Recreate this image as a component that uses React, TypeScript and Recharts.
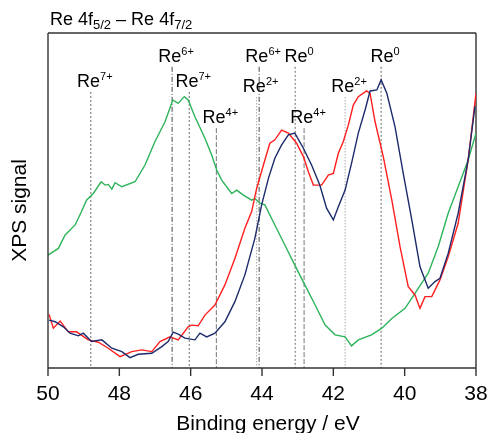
import React from 'react';
import { LineChart, Line, XAxis, YAxis, ReferenceLine } from 'recharts';

const xTicks = [50, 48, 46, 44, 42, 40, 38];

const greenEnergy = [50.0, 49.71, 49.52, 49.24, 49.06, 48.92, 48.73, 48.51, 48.4, 48.31, 48.21, 48.12, 47.93, 47.56, 47.28, 47.0, 46.72, 46.5, 46.35, 46.18, 46.07, 45.88, 45.6, 45.41, 45.27, 45.13, 44.85, 44.71, 44.52, 44.29, 44.2, 44.06, 43.92, 43.64, 43.36, 43.08, 42.8, 42.51, 42.23, 41.95, 41.67, 41.49, 41.3, 40.93, 40.64, 40.36, 39.99, 39.71, 39.34, 39.06, 38.78, 38.5, 38.22, 38.0];
const greenSignal = [33.7, 35.7, 39.7, 42.7, 46.7, 50.1, 52.1, 55.6, 54.6, 54.8, 53.4, 55.3, 54.1, 55.6, 60.6, 67.6, 73.5, 80.0, 79.0, 81.0, 80.0, 75.0, 68.6, 63.6, 59.1, 56.1, 52.1, 53.1, 51.6, 50.1, 50.6, 49.2, 48.7, 42.7, 36.7, 30.7, 24.8, 18.8, 12.8, 9.9, 9.3, 6.6, 8.4, 9.9, 11.9, 14.8, 17.8, 22.3, 28.3, 36.2, 46.2, 54.1, 62.1, 70.1];

const redEnergy = [49.97, 49.85, 49.66, 49.43, 49.2, 48.87, 48.59, 48.31, 47.98, 47.65, 47.37, 47.09, 46.86, 46.58, 46.35, 46.07, 45.97, 45.79, 45.6, 45.32, 45.04, 44.76, 44.48, 44.29, 44.15, 43.96, 43.78, 43.64, 43.45, 43.26, 43.03, 42.84, 42.7, 42.56, 42.33, 42.14, 42.0, 41.86, 41.72, 41.58, 41.44, 41.3, 41.07, 40.97, 40.83, 40.6, 40.36, 40.13, 39.9, 39.71, 39.57, 39.43, 39.24, 39.01, 38.78, 38.5, 38.22, 38.0];
const redSignal = [16.0, 11.9, 14.0, 10.8, 10.8, 8.4, 7.7, 5.9, 3.4, 4.9, 5.4, 4.9, 7.9, 9.3, 8.4, 12.3, 12.8, 12.6, 15.8, 18.8, 24.8, 32.7, 41.7, 46.7, 53.6, 60.6, 67.1, 68.1, 71.0, 70.1, 67.1, 63.1, 58.6, 54.6, 54.6, 57.6, 58.1, 64.1, 67.6, 72.5, 78.5, 81.0, 82.7, 82.0, 73.5, 63.1, 50.1, 36.2, 24.3, 21.8, 17.8, 21.3, 21.3, 26.3, 33.2, 43.2, 62.1, 82.0];

const navyEnergy = [49.97, 49.8, 49.57, 49.38, 49.15, 49.01, 48.78, 48.49, 48.21, 47.93, 47.7, 47.47, 47.09, 46.81, 46.63, 46.49, 46.35, 46.16, 45.88, 45.74, 45.55, 45.32, 45.04, 44.76, 44.48, 44.2, 44.01, 43.82, 43.64, 43.45, 43.26, 43.08, 42.84, 42.61, 42.38, 42.19, 42.0, 41.86, 41.67, 41.49, 41.3, 41.11, 40.97, 40.78, 40.66, 40.5, 40.27, 40.04, 39.8, 39.57, 39.34, 39.15, 39.01, 38.78, 38.5, 38.22, 38.03];
const navySignal = [14.3, 13.8, 12.3, 10.4, 9.6, 10.4, 7.9, 8.4, 5.9, 4.9, 3.1, 4.1, 4.4, 6.4, 7.9, 10.7, 10.1, 8.9, 8.4, 10.4, 9.3, 10.4, 13.8, 19.8, 27.8, 38.7, 48.7, 56.6, 62.6, 66.6, 69.6, 70.1, 65.6, 60.6, 54.6, 47.7, 44.2, 48.1, 53.1, 61.1, 70.1, 77.0, 82.7, 83.0, 86.0, 82.0, 72.0, 58.1, 44.2, 30.2, 23.8, 25.8, 26.8, 34.2, 46.2, 62.1, 78.0];

const markerEnergy = [48.8, 46.52, 46.04, 45.28, 44.15, 44.08, 43.07, 42.82, 41.67, 40.66];
const markerSup = ['7+', '6+', '7+', '4+', '2+', '6+', '0', '4+', '2+', '0'];
const markerTop = [82.4, 89.9, 82.4, 71.6, 80.9, 89.9, 89.9, 71.6, 80.9, 89.9];

const titleParts = ['Re 4f', '5/2', ' \u2013 Re 4f', '7/2'];
const xLabel = 'Binding energy / eV';
const yLabel = 'XPS signal';

const FONT = '"Liberation Sans", Arial, sans-serif';
const AXIS = '#333';

const styleFor = (sup: string) => {
  if (sup === '6+') return { stroke: '#333', strokeDasharray: '5 2 1 2', strokeWidth: 0.9 };
  if (sup === '4+') return { stroke: '#777', strokeDasharray: '5 2', strokeWidth: 1 };
  if (sup === '2+') return { stroke: '#aaa', strokeDasharray: '1.5 1.5', strokeWidth: 1 };
  return { stroke: '#444', strokeDasharray: '2 2', strokeWidth: 0.8 };
};

const pts = (e: number[], s: number[]) => e.map((x, i) => ({ energy: x, signal: s[i] }));
const greenData = pts(greenEnergy, greenSignal);
const redData = pts(redEnergy, redSignal);
const navyData = pts(navyEnergy, navySignal);

export default function App() {
  return (
    <div style={{ position: 'fixed', left: 0, top: 0, width: 490, height: 433 }}>
      <LineChart width={490} height={433} margin={{ top: 33, right: 14, bottom: 5, left: 0 }}>
        <XAxis
          dataKey="energy"
          type="number"
          domain={[38, 50]}
          reversed
          ticks={xTicks}
          allowDataOverflow
          height={60}
          tickSize={8}
          tickMargin={9}
          stroke={AXIS}
          strokeWidth={1.4}
          tick={{ fill: '#000', fontSize: 21, fontFamily: FONT }}
          label={(p: any) => {
            const vb = p.viewBox;
            return (
              <text x={vb.x + vb.width / 2 + 6} y={vb.y + 62} textAnchor="middle" fontSize={21} fontFamily={FONT} fill="#000">
                {xLabel}
              </text>
            );
          }}
        />
        <YAxis
          type="number"
          domain={[0, 100]}
          allowDataOverflow
          width={48}
          tick={false}
          tickLine={false}
          stroke={AXIS}
          strokeWidth={1.4}
          label={(p: any) => {
            const vb = p.viewBox;
            const cy = vb.y + vb.height / 2 + 10;
            return (
              <g>
                <text x={18} y={cy} transform={`rotate(-90, 18, ${cy})`} textAnchor="middle" dominantBaseline="central" fontSize={21} fontFamily={FONT} fill="#000">
                  {yLabel}
                </text>
                <text x={50} y={vb.y - 8} fontSize={18} fontFamily={FONT} fill="#000">
                  <tspan>{titleParts[0]}</tspan>
                  <tspan dy={4} fontSize={13}>{titleParts[1]}</tspan>
                  <tspan dy={-4}>{titleParts[2]}</tspan>
                  <tspan dy={4} fontSize={13}>{titleParts[3]}</tspan>
                </text>
              </g>
            );
          }}
        />
        <ReferenceLine y={100} stroke={AXIS} strokeWidth={1.4} />
        <ReferenceLine x={38} stroke={AXIS} strokeWidth={1.4} />
        {markerEnergy.map((e, i) => (
          <ReferenceLine
            key={i}
            segment={[{ x: e, y: markerTop[i] }, { x: e, y: 0 }]}
            {...styleFor(markerSup[i])}
            label={(p: any) => {
              const vb = p.viewBox;
              return (
                <text x={vb.x + 4} y={vb.y - 5} textAnchor="middle" fontSize={18} fontFamily={FONT} fill="#000">
                  <tspan>Re</tspan>
                  <tspan dy={-7} fontSize={11}>{markerSup[i]}</tspan>
                </text>
              );
            }}
          />
        ))}
        <Line data={greenData} dataKey="signal" stroke="#2db35a" strokeWidth={1.4} dot={false} isAnimationActive={false} />
        <Line data={redData} dataKey="signal" stroke="#ff1f1f" strokeWidth={1.4} dot={false} isAnimationActive={false} />
        <Line data={navyData} dataKey="signal" stroke="#1d2b6c" strokeWidth={1.4} dot={false} isAnimationActive={false} />
      </LineChart>
    </div>
  );
}
